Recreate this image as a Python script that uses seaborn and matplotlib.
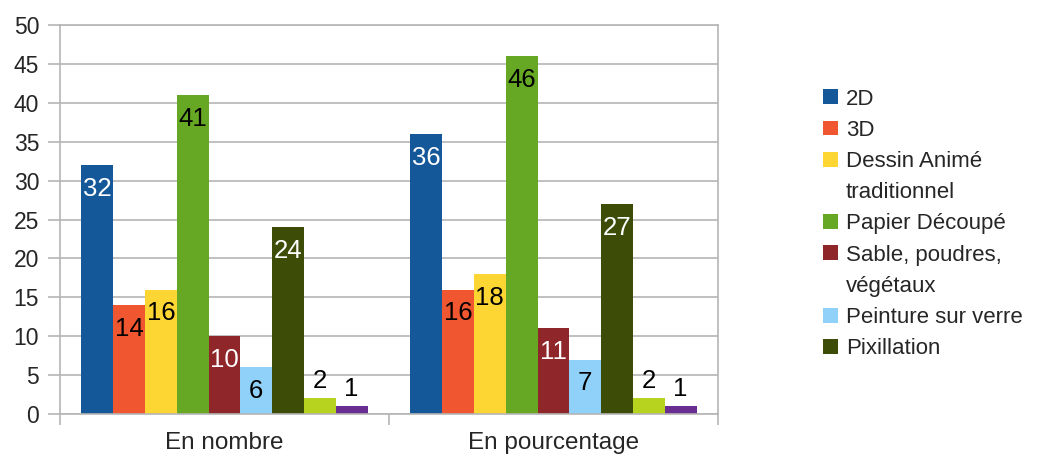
import pandas as pd
import matplotlib.pyplot as plt
import seaborn as sns
from matplotlib.patches import Patch

# === DATA ===
groups = ["En nombre", "En pourcentage"]
techniques = ["2D", "3D", "Dessin Animé\ntraditionnel", "Papier Découpé",
              "Sable, poudres,\nvégétaux", "Peinture sur verre", "Pixillation",
              "Série 8", "Série 9"]
en_nombre = [32, 14, 16, 41, 10, 6, 24, 2, 1]
en_pourcentage = [36, 16, 18, 46, 11, 7, 27, 2, 1]
# only the first 7 series appear in the legend of the original
n_legend = 7

colors = ["#15589a", "#f05630", "#fdd634", "#66a824", "#8e262a",
          "#90d1f9", "#3d4d08", "#b7d31f", "#6a2d91"]
label_colors = ["white", "black", "black", "black", "white",
                "black", "white", "black", "black"]

# === LONG FORMAT ===
rows = []
for t, a, b in zip(techniques, en_nombre, en_pourcentage):
    rows.append({"groupe": groups[0], "technique": t, "valeur": a})
    rows.append({"groupe": groups[1], "technique": t, "valeur": b})
df = pd.DataFrame(rows)

# === STYLE ===
sns.set_style("white")
plt.rcParams['font.family'] = ['Liberation Sans', 'DejaVu Sans']
grid_col = "#b5b5b5"

fig = plt.figure(figsize=(10.45, 4.59), dpi=100)
ax = fig.add_axes([0.0574, 0.098, 0.6296, 0.8475])

sns.barplot(data=df, x="groupe", y="valeur", hue="technique",
            hue_order=techniques, order=groups, palette=colors,
            saturation=1, width=0.87, gap=0, legend=False, ax=ax,
            linewidth=0)

# === DATA LABELS ===
for i, cont in enumerate(ax.containers):
    for bar in cont:
        h = bar.get_height()
        xc = bar.get_x() + bar.get_width() / 2
        if h >= 5:
            ax.annotate(f"{h:.0f}", xy=(xc, h), xytext=(0, -8.5),
                        textcoords="offset points", ha="center", va="top",
                        fontsize=18.5, color=label_colors[i])
        else:
            ax.annotate(f"{h:.0f}", xy=(xc, h), xytext=(0, 4),
                        textcoords="offset points", ha="center", va="bottom",
                        fontsize=18.5, color="black")

# === AXES ===
ax.set_ylim(0, 50)
ax.set_xlim(-0.5, 1.5)
ax.set_yticks(range(0, 51, 5))
ax.set_xlabel("")
ax.set_ylabel("")
ax.yaxis.grid(True, color=grid_col, linewidth=1.2)
ax.set_axisbelow(True)
for side in ["left", "right", "top", "bottom"]:
    ax.spines[side].set_visible(True)
    ax.spines[side].set_color(grid_col)
    ax.spines[side].set_linewidth(1.2)
ax.tick_params(axis="y", length=9, width=1.2, color=grid_col, pad=6,
               labelsize=16.5, left=True)
ax.tick_params(axis="x", which="major", length=0, pad=13, labelsize=17.5)
ax.set_xticks([-0.5, 0.5, 1.5], minor=True)
ax.tick_params(axis="x", which="minor", length=8, width=1.2, color=grid_col,
               bottom=True)

# === LEGEND ===
# one row per text line, square only on the first line (as in the original)
handles, labels = [], []
for i in range(n_legend):
    for j, line in enumerate(techniques[i].split("\n")):
        if j == 0:
            handles.append(Patch(facecolor=colors[i], edgecolor="none"))
        else:
            handles.append(Patch(facecolor="none", edgecolor="none"))
        labels.append(line)
fig.legend(handles, labels, loc="upper left",
           bbox_to_anchor=(0.788, 0.807), frameon=False, fontsize=16,
           handlelength=0.65, handleheight=0.65, handletextpad=0.35,
           labelspacing=0.46, borderpad=0, borderaxespad=0)

plt.savefig("out.png", dpi=100)
plt.close()
